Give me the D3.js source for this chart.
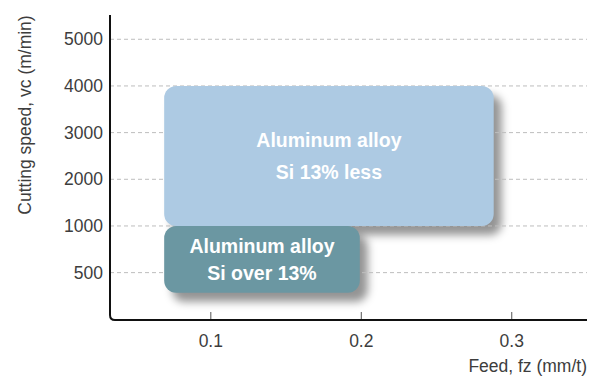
<!DOCTYPE html>
<html>
<head>
<meta charset="utf-8">
<script src="https://cdn.jsdelivr.net/npm/d3@7"></script>
<style>
  html, body { margin: 0; padding: 0; background: #fff; }
  svg { display: block; font-family: "Liberation Sans", Arial, Helvetica, sans-serif; }
</style>
</head>
<body>
<svg id="chart" width="595" height="376"></svg>
<script>
// ---- data ----
const speedTicks = [500, 1000, 2000, 3000, 4000, 5000];
const feedTicks = [0.1, 0.2, 0.3];
const boxNames = ["Si 13% less", "Si over 13%"];
const boxLine1 = ["Aluminum alloy", "Aluminum alloy"];
const boxLine2 = ["Si 13% less", "Si over 13%"];
const boxFeedMin = [0.069, 0.069];
const boxFeedMax = [0.288, 0.199];
const boxSpeedMin = [1000, 285];
const boxSpeedMax = [4000, 1000];
const boxColors = ["#adcae3", "#6b97a2"];
const xTitle = "Feed, fz (mm/t)";
const yTitle = "Cutting speed, vc (m/min)";

// ---- layout ----
const svg = d3.select("#chart");
const pLeft = 110, pRight = 587, pBottom = 320, pTop = 15;
const yBottom = 319.3, yStep = 46.67;
const textColor = "#3d3d3d";
const fs = "17.5px";

const x = d3.scaleLinear().domain([0.033, 0.35]).range([pLeft, pRight]);
// piecewise scale: ticks are equally spaced (non-linear values)
const yDomain = [0].concat(speedTicks);
const y = d3.scaleLinear()
  .domain(yDomain)
  .range(yDomain.map((d, i) => yBottom - i * yStep));

const bx = i => x(boxFeedMin[i]);
const by = i => y(boxSpeedMax[i]);
const bw = i => x(boxFeedMax[i]) - x(boxFeedMin[i]);
const bh = i => y(boxSpeedMin[i]) - y(boxSpeedMax[i]);

// blur filter for shadows
const defs = svg.append("defs");
defs.append("filter").attr("id", "blur")
  .attr("x", "-20%").attr("y", "-30%").attr("width", "140%").attr("height", "160%")
  .append("feGaussianBlur").attr("stdDeviation", 4);

// shadows (beneath gridlines)
svg.append("g").selectAll("rect").data(boxNames).join("rect")
  .attr("x", (d, i) => bx(i) + 8)
  .attr("y", (d, i) => by(i) + 9)
  .attr("width", (d, i) => bw(i))
  .attr("height", (d, i) => bh(i))
  .attr("rx", 12).attr("ry", 12)
  .attr("fill", "#000").attr("fill-opacity", 0.42)
  .attr("filter", "url(#blur)");

// gridlines
svg.append("g").selectAll("line").data(speedTicks).join("line")
  .attr("x1", pLeft).attr("x2", pRight)
  .attr("y1", d => y(d)).attr("y2", d => y(d))
  .attr("stroke", "#bdbdbd").attr("stroke-width", 1)
  .attr("stroke-dasharray", "4,3");

// boxes
const boxes = svg.append("g").selectAll("g").data(boxNames).join("g");
boxes.append("rect")
  .attr("x", (d, i) => bx(i))
  .attr("y", (d, i) => by(i))
  .attr("width", (d, i) => bw(i))
  .attr("height", (d, i) => bh(i))
  .attr("rx", 12).attr("ry", 12)
  .attr("fill", (d, i) => boxColors[i]);

const lineGap = [32.6, 26.7];
boxes.each(function(d, i) {
  const g = d3.select(this);
  const cx = bx(i) + bw(i) / 2;
  const cy = by(i) + bh(i) / 2;
  [boxLine1[i], boxLine2[i]].forEach((t, k) => {
    g.append("text")
      .attr("x", cx)
      .attr("y", cy + (k - 0.5) * lineGap[i] + 7)
      .attr("text-anchor", "middle")
      .attr("fill", "#fff")
      .attr("font-weight", "bold")
      .attr("font-size", "19.5px")
      .text(t);
  });
});

// x ticks (inside, upward)
svg.append("g").selectAll("line").data(feedTicks).join("line")
  .attr("x1", d => x(d)).attr("x2", d => x(d))
  .attr("y1", pBottom - 8).attr("y2", pBottom)
  .attr("stroke", "#555").attr("stroke-width", 1);

// axes frame with rounded corner
const r = 5;
svg.append("path")
  .attr("d", `M${pLeft},${pTop} L${pLeft},${pBottom - r} Q${pLeft},${pBottom} ${pLeft + r},${pBottom} L${pRight},${pBottom}`)
  .attr("fill", "none").attr("stroke", "#111").attr("stroke-width", 2);

// tick labels
svg.append("g").selectAll("text").data(speedTicks).join("text")
  .attr("x", 103).attr("y", d => y(d) + 6)
  .attr("text-anchor", "end")
  .attr("font-size", fs).attr("fill", textColor)
  .text(d => d);

svg.append("g").selectAll("text").data(feedTicks).join("text")
  .attr("x", d => x(d)).attr("y", 347)
  .attr("text-anchor", "middle")
  .attr("font-size", fs).attr("fill", textColor)
  .text(d => d3.format(".1f")(d));

// axis titles
svg.append("text")
  .attr("x", pRight).attr("y", 372)
  .attr("text-anchor", "end")
  .attr("font-size", fs).attr("fill", textColor)
  .text(xTitle);

svg.append("text")
  .attr("transform", "translate(31,115) rotate(-90)")
  .attr("text-anchor", "middle")
  .attr("font-size", fs).attr("fill", textColor)
  .text(yTitle);
</script>
</body>
</html>
